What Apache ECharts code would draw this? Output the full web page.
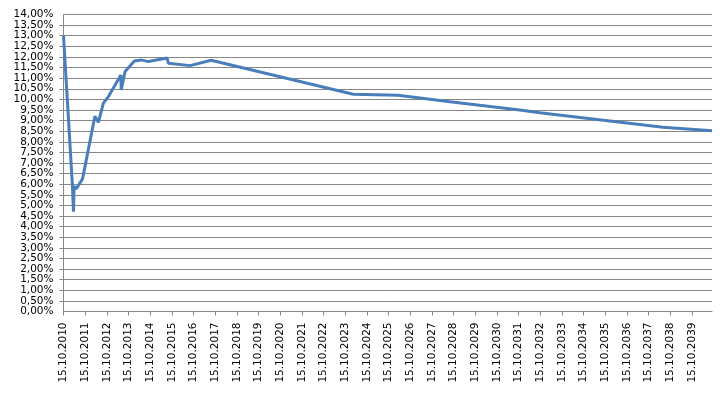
<!DOCTYPE html>
<html>
<head>
<meta charset="utf-8">
<script src="https://cdn.jsdelivr.net/npm/echarts@6/dist/echarts.min.js"></script>
<style>
html,body{margin:0;padding:0;background:#fff;}
#chart{width:722px;height:393px;}
</style>
</head>
<body>
<div id="chart"></div>
<script>
// Data
const startDate = '2010-10-15';
const dates = [
  '2010-10-15','2011-03-14','2011-04-01','2011-04-12','2011-05-18','2011-09-01',
  '2012-03-27','2012-05-25','2012-08-17','2012-11-10','2013-06-09','2013-06-13',
  '2013-08-18','2014-01-22','2014-05-15','2014-09-16','2015-07-27','2015-08-18',
  '2016-08-17','2017-08-07','2024-02-27','2026-03-25','2028-08-13','2031-11-06',
  '2032-10-08','2038-06-13','2040-09-18'
];
const rates = [
  13.00, 5.96, 4.70, 5.90, 5.78, 6.25,
  9.20, 8.92, 9.82, 10.13, 11.15, 10.44,
  11.31, 11.81, 11.86, 11.78, 11.95, 11.70,
  11.59, 11.84, 10.24, 10.19, 9.89, 9.50,
  9.37, 8.68, 8.52
];
const tickYears = [];
for (let y = 2010; y <= 2039; y++) tickYears.push(y);
const yMin = 0, yMax = 14, yStep = 0.5;

const DAY = 86400000;
const t0 = Date.parse(startDate);
function yearsSince(d) { return (Date.parse(d) - t0) / (365.25 * DAY); }
const seriesData = dates.map((d, i) => [yearsSince(d), rates[i]]);
const xMax = yearsSince(dates[dates.length - 1]);

const chart = echarts.init(document.getElementById('chart'), null, {renderer: 'canvas'});
const gray = '#868686';
const pct = function (v) { return v.toFixed(2).replace('.', ',') + '%'; };
const labelFont = {color: '#000', fontFamily: 'DejaVu Sans', fontSize: 10.5};
chart.setOption({
  animation: false,
  backgroundColor: '#ffffff',
  grid: {left: 63.5, right: 10, top: 14.5, bottom: 81.5, containLabel: false},
  xAxis: {
    type: 'value',
    min: 0,
    max: xMax,
    interval: 1,
    splitLine: {show: false},
    axisLine: {show: true, lineStyle: {color: gray, width: 1}},
    axisTick: {show: true, length: 4, lineStyle: {color: gray}},
    axisLabel: Object.assign({
      rotate: 90,
      margin: 11,
      showMinLabel: true,
      showMaxLabel: false,
      formatter: function (v) {
        const i = Math.round(v);
        if (Math.abs(v - i) > 1e-6 || i >= tickYears.length) return '';
        return '15.10.' + tickYears[i];
      }
    }, labelFont)
  },
  yAxis: [{
    type: 'value',
    min: yMin,
    max: yMax,
    interval: yStep,
    axisLine: {show: true, lineStyle: {color: gray, width: 1}},
    axisTick: {show: true, length: 4, lineStyle: {color: gray}},
    splitLine: {show: true, lineStyle: {color: gray, width: 1}},
    axisLabel: Object.assign({
      margin: 10,
      showMinLabel: false,
      showMaxLabel: false,
      formatter: pct
    }, labelFont)
  }, {
    type: 'value',
    position: 'left',
    min: yMin,
    max: yMax,
    interval: yMax - yMin,
    axisLine: {show: false},
    axisTick: {show: false},
    splitLine: {show: false},
    axisLabel: Object.assign({
      margin: 10,
      showMinLabel: true,
      showMaxLabel: true,
      formatter: pct
    }, labelFont)
  }],
  series: [{
    type: 'line',
    data: seriesData,
    showSymbol: false,
    symbol: 'none',
    lineStyle: {color: '#4a7ebb', width: 3},
    z: 5
  }]
});
</script>
</body>
</html>
